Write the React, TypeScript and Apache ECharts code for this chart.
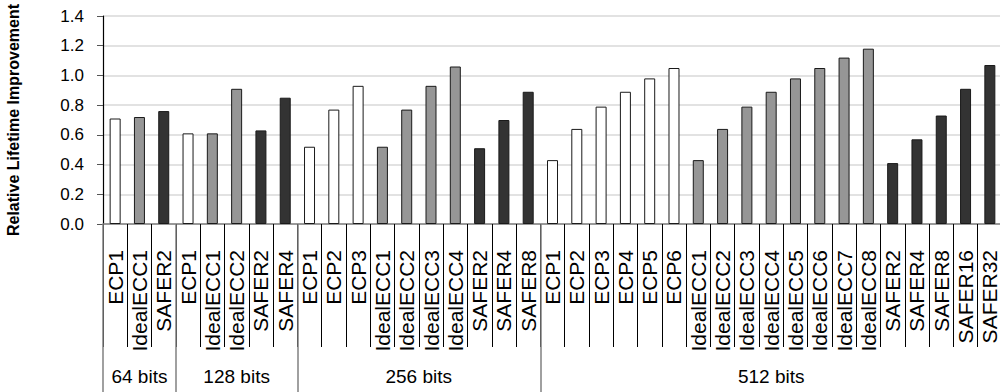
import React, { useEffect, useRef } from "react";
import * as echarts from "echarts";

const groups = ["64 bits", "128 bits", "256 bits", "512 bits"];
const groupSizes = [3, 5, 10, 19];

const categories = [
  "ECP1", "IdealECC1", "SAFER2",
  "ECP1", "IdealECC1", "IdealECC2", "SAFER2", "SAFER4",
  "ECP1", "ECP2", "ECP3", "IdealECC1", "IdealECC2", "IdealECC3", "IdealECC4", "SAFER2", "SAFER4", "SAFER8",
  "ECP1", "ECP2", "ECP3", "ECP4", "ECP5", "ECP6",
  "IdealECC1", "IdealECC2", "IdealECC3", "IdealECC4", "IdealECC5", "IdealECC6", "IdealECC7", "IdealECC8",
  "SAFER2", "SAFER4", "SAFER8", "SAFER16", "SAFER32",
];

const values = [
  0.71, 0.72, 0.76,
  0.61, 0.61, 0.91, 0.63, 0.85,
  0.52, 0.77, 0.93, 0.52, 0.77, 0.93, 1.06, 0.51, 0.70, 0.89,
  0.43, 0.64, 0.79, 0.89, 0.98, 1.05,
  0.43, 0.64, 0.79, 0.89, 0.98, 1.05, 1.12, 1.18,
  0.41, 0.57, 0.73, 0.91, 1.07,
];

const yTicks = [0, 0.2, 0.4, 0.6, 0.8, 1.0, 1.2, 1.4];

function colorFor(name: string): string {
  if (name.startsWith("ECP")) return "#ffffff";
  if (name.startsWith("Ideal")) return "#969696";
  return "#333333";
}

export default function App() {
  const ref = useRef<HTMLDivElement>(null);
  useEffect(() => {
    if (!ref.current) return;
    const chart = echarts.init(ref.current, undefined, { renderer: "svg" });

    const boundaries = new Set<number>();
    const labelAt: Record<number, { text: string; half: boolean }> = {};
    let start = 0;
    groupSizes.forEach((n, gi) => {
      boundaries.add(start);
      const mid = start + Math.floor((n - 1) / 2);
      labelAt[mid] = { text: groups[gi], half: n % 2 === 0 };
      start += n;
    });

    const font = "Liberation Sans, Arial, sans-serif";

    chart.setOption({
      animation: false,
      backgroundColor: "#ffffff",
      grid: {
        left: 103,
        top: 16,
        height: 208,
        width: 899,
        containLabel: false,
        outerBoundsMode: "none",
      },
      xAxis: [
        {
          type: "category",
          data: categories,
          position: "bottom",
          boundaryGap: true,
          axisLine: { show: true, onZero: false, lineStyle: { color: "#808080", width: 1.5 } },
          axisTick: { show: true, interval: 0, length: 123, lineStyle: { color: "#000000", width: 1 } },
          axisLabel: {
            interval: 0,
            rotate: 90,
            margin: 26,
            fontFamily: font,
            fontSize: 21,
            color: "#000000",
          },
          splitLine: { show: false },
        },
        {
          type: "category",
          data: categories,
          position: "bottom",
          offset: 0,
          boundaryGap: true,
          axisLine: { show: false },
          axisTick: {
            show: true,
            length: 168,
            interval: (i: number) => boundaries.has(i),
            lineStyle: { color: "#808080", width: 1.5 },
          },
          axisLabel: {
            interval: (i: number) => labelAt[i] !== undefined,
            margin: 143,
            fontFamily: font,
            fontSize: 19,
            color: "#000000",
            formatter: (_v: string, i: number) => {
              const l = labelAt[i];
              if (!l) return "";
              return l.half ? "{h|" + l.text + "}" : "{n|" + l.text + "}";
            },
            rich: {
              n: { fontFamily: font, fontSize: 19, color: "#000000" },
              h: { fontFamily: font, fontSize: 19, color: "#000000", padding: [0, 0, 0, 24] },
            },
          },
          splitLine: { show: false },
        },
      ],
      yAxis: {
        type: "value",
        min: 0,
        max: 1.4,
        interval: 0.2,
        name: "Relative Lifetime Improvement",
        nameLocation: "middle",
        nameGap: 82,
        nameRotate: 90,
        nameTextStyle: { fontFamily: font, fontSize: 16, fontWeight: "bold", color: "#000000" },
        axisLine: { show: true, lineStyle: { color: "#000000", width: 1.2 } },
        axisTick: { show: true, inside: false, length: 6, lineStyle: { color: "#555555" } },
        axisLabel: {
          margin: 19,
          fontFamily: font,
          fontSize: 17,
          color: "#000000",
          formatter: (v: number) => {
            const t = yTicks.find((x) => Math.abs(x - v) < 1e-6);
            return (t !== undefined ? t : v).toFixed(1);
          },
        },
        splitLine: { show: true, lineStyle: { color: "#d9d9d9", width: 1.5 } },
      },
      series: [
        {
          type: "bar",
          xAxisIndex: 0,
          barWidth: 11,
          data: values.map((v, i) => ({
            value: v,
            itemStyle: { color: colorFor(categories[i]), borderColor: "#1a1a1a", borderWidth: 1 },
          })),
        },
      ],
    });
    return () => chart.dispose();
  }, []);
  return (
    <div
      ref={ref}
      style={{ position: "fixed", left: 0, top: 0, width: 1000, height: 392, background: "#fff" }}
    />
  );
}
